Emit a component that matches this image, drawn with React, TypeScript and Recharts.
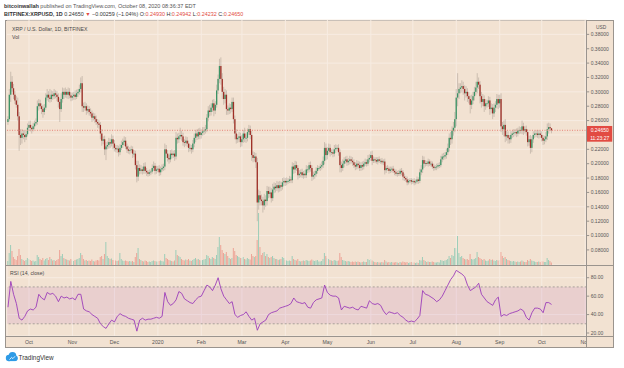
import { ComposedChart, Bar, Line, XAxis, YAxis, CartesianGrid, ReferenceLine, ReferenceArea, Cell } from "recharts";

// Daily BITFINEX:XRPUSD candles, Sep 16 2019 .. Oct 8 2020 (index 0 = Sep 16).
// Prices kept in thousandths of a dollar.
const firstOpenMilli = 258;

const closeMilli = [
  // Sep 2019
  262, 296, 314, 305, 296, 288, 282, 266, 240, 236, 242, 240, 237, 241, 250,
  // Oct
  254, 250, 248, 252, 256, 258, 280, 284, 280, 276, 272, 278, 292, 296, 292, 290,
  296, 294, 298, 296, 293, 286, 276, 290, 300, 296, 300, 296, 300, 295, 292,
  // Nov
  294, 296, 293, 298, 300, 304, 312, 280, 278, 280, 274, 276, 272, 270, 264,
  266, 262, 258, 256, 254, 242, 232, 234, 220, 224, 226, 230, 228, 234, 228,
  // Dec
  222, 220, 221, 216, 222, 226, 230, 232, 224, 220, 218, 219, 220, 214, 214, 198,
  182, 194, 190, 192, 190, 196, 190, 188, 186, 188, 189, 194, 197, 190, 192,
  // Jan 2020
  193, 188, 192, 194, 196, 220, 214, 208, 206, 214, 212, 214, 210, 236, 234, 238,
  240, 238, 230, 229, 232, 228, 222, 222, 220, 228, 236, 242, 238, 244, 240,
  // Feb
  243, 245, 246, 248, 264, 274, 272, 278, 284, 274, 282, 302, 318, 336, 318,
  300, 290, 296, 276, 274, 278, 276, 286, 262, 242, 234, 236, 238, 230,
  // Mar
  234, 242, 236, 236, 244, 248, 240, 212, 208, 210, 202, 146, 156, 150, 148, 142,
  150, 148, 162, 158, 160, 152, 164, 168, 166, 170, 166, 170, 168, 174, 176,
  // Apr
  174, 176, 176, 178, 177, 196, 192, 198, 194, 184, 186, 188, 184, 186, 184,
  192, 192, 198, 194, 182, 184, 186, 190, 194, 194, 196, 198, 204, 222, 212,
  // May
  218, 222, 216, 216, 214, 220, 222, 222, 216, 198, 194, 200, 204, 206, 202, 204,
  206, 204, 202, 198, 196, 200, 198, 194, 198, 196, 200, 202, 200, 206, 208,
  // Jun
  212, 204, 206, 205, 203, 206, 204, 204, 202, 203, 191, 194, 193, 190, 192,
  193, 190, 188, 186, 187, 186, 190, 188, 182, 180, 178, 174, 176, 177, 175,
  // Jul
  176, 174, 175, 178, 176, 188, 192, 205, 200, 201, 200, 203, 200, 200, 196, 194,
  195, 196, 198, 198, 206, 210, 210, 212, 216, 222, 236, 234, 246, 250, 262,
  // Aug
  292, 298, 304, 306, 308, 304, 298, 300, 294, 290, 282, 288, 294, 300, 306, 314,
  310, 294, 286, 290, 280, 284, 284, 288, 276, 278, 270, 278, 282, 290, 284,
  // Sep
  290, 252, 248, 254, 238, 240, 236, 234, 240, 242, 243, 244, 242, 246, 247,
  246, 252, 246, 248, 244, 230, 234, 222, 234, 240, 242, 242, 240, 242, 240,
  // Oct 2020
  236, 232, 234, 238, 248, 251, 249.3, 246.5,
];

// how far each wick reaches past the body (thousandths)
const wickUpMilli = [
  4, 8, 14, 8, 6, 5, 6, 10, 6, 8, 6, 5, 6, 5, 6,
  5, 6, 4, 5, 4, 5, 8, 6, 5, 4, 6, 5, 6, 8, 5, 12, 6, 5, 6, 4, 5, 5, 6, 8, 6, 5, 6, 4, 6, 5, 4,
  5, 4, 6, 5, 4, 6, 8, 10, 5, 6, 4, 5, 4, 5, 4, 5, 4, 5, 4, 5, 4, 6, 4, 5, 6, 5, 6, 5, 7, 5,
  5, 4, 5, 4, 5, 6, 5, 6, 5, 4, 5, 4, 5, 4, 5, 4, 6, 10, 5, 6, 4, 5, 6, 4, 3, 4, 3, 5, 6, 4, 5,
  4, 5, 4, 5, 4, 8, 6, 5, 4, 5, 6, 4, 5, 8, 6, 5, 10, 6, 5, 4, 6, 5, 4, 5, 4, 5, 6, 5, 6, 5, 6,
  5, 6, 5, 6, 5, 6, 8, 6, 5, 6, 5, 8, 6, 10, 12, 8, 7, 8, 6, 5, 6, 5, 6, 6, 5, 6, 5, 6, 5,
  6, 5, 8, 6, 5, 6, 5, 6, 5, 6, 5, 6, 8, 6, 7, 6, 8, 6, 7, 6, 8, 6, 8, 6, 5, 6, 5, 6, 5, 6, 5,
  4, 5, 4, 5, 4, 6, 5, 6, 5, 4, 5, 4, 5, 4, 5, 6, 5, 4, 5, 4, 5, 4, 5, 4, 3, 4, 5, 6, 8, 6,
  5, 6, 5, 4, 5, 6, 5, 4, 5, 4, 5, 6, 5, 4, 5, 4, 5, 4, 5, 4, 4, 5, 4, 5, 4, 5, 4, 5, 4, 6, 5,
  5, 6, 4, 3, 4, 3, 4, 3, 4, 3, 4, 3, 4, 3, 4, 3, 4, 3, 4, 3, 4, 3, 4, 3, 4, 3, 4, 3, 3, 3,
  3, 4, 3, 4, 3, 5, 6, 6, 5, 4, 3, 4, 3, 4, 3, 4, 3, 4, 3, 4, 5, 4, 5, 4, 5, 6, 6, 8, 6, 8, 10,
  12, 28, 8, 6, 8, 6, 5, 8, 5, 6, 5, 8, 6, 7, 8, 12, 6, 5, 6, 7, 5, 6, 5, 6, 5, 6, 5, 6, 5, 7, 6,
  6, 8, 6, 6, 8, 6, 5, 4, 5, 4, 5, 4, 5, 4, 5, 4, 8, 5, 4, 5, 4, 5, 6, 4, 5, 4, 5, 4, 5, 4,
  5, 4, 5, 6, 8, 6, 5, 0.1,
];

const wickDownMilli = [
  4, 3, 10, 5, 6, 5, 4, 6, 22, 10, 8, 6, 7, 4, 3,
  4, 5, 6, 3, 4, 3, 4, 6, 4, 7, 8, 4, 3, 4, 6, 5, 4, 5, 4, 5, 6, 8, 18, 4, 5, 6, 4, 5, 6, 4, 5,
  4, 5, 4, 3, 5, 4, 5, 8, 6, 4, 6, 4, 5, 4, 6, 4, 5, 4, 6, 5, 8, 7, 5, 8, 15, 4, 5, 6, 4, 8,
  5, 4, 5, 6, 4, 3, 4, 5, 4, 5, 4, 5, 4, 6, 5, 6, 8, 6, 5, 4, 5, 4, 4, 5, 4, 3, 4, 3, 4, 5, 4,
  4, 5, 4, 3, 4, 5, 6, 5, 6, 4, 5, 4, 6, 4, 6, 5, 4, 6, 5, 6, 4, 5, 6, 5, 6, 4, 5, 6, 5, 4, 6,
  5, 4, 5, 4, 4, 5, 6, 5, 6, 8, 5, 4, 5, 6, 8, 10, 8, 6, 8, 6, 5, 6, 4, 6, 8, 6, 5, 6, 7,
  6, 5, 6, 7, 5, 4, 6, 8, 6, 5, 8, 26, 10, 8, 6, 10, 6, 8, 6, 6, 5, 6, 4, 5, 6, 4, 6, 5, 6, 4, 5,
  5, 4, 4, 3, 4, 4, 6, 5, 4, 6, 4, 5, 4, 5, 4, 4, 5, 4, 5, 6, 4, 5, 4, 4, 3, 4, 4, 4, 5, 7,
  6, 5, 6, 4, 5, 4, 5, 4, 5, 10, 6, 4, 5, 4, 5, 4, 5, 4, 5, 4, 5, 4, 5, 4, 4, 5, 4, 3, 4, 3, 4,
  4, 6, 3, 4, 3, 4, 3, 4, 3, 4, 6, 4, 3, 4, 3, 4, 3, 4, 3, 4, 3, 3, 4, 5, 4, 3, 4, 3, 3, 4,
  3, 4, 3, 3, 4, 3, 4, 5, 6, 4, 3, 4, 3, 4, 3, 4, 3, 4, 3, 4, 3, 4, 5, 4, 5, 4, 5, 8, 6, 7, 6,
  10, 12, 8, 6, 7, 8, 10, 6, 8, 6, 12, 6, 5, 6, 5, 8, 6, 10, 8, 6, 8, 5, 6, 5, 8, 6, 8, 5, 6, 5, 8,
  6, 8, 8, 10, 8, 6, 8, 6, 5, 4, 5, 4, 5, 4, 5, 4, 5, 6, 4, 5, 6, 5, 8, 6, 5, 4, 5, 4, 5, 4,
  5, 6, 5, 4, 5, 6, 4, 4.2,
];

// daily volume, millions of XRP (relative heights from the screenshot)
const volumeM = [
  40, 120, 200, 140, 80, 60, 50, 90, 160, 100, 60, 50, 40, 50, 70,
  60, 50, 40, 45, 35, 40, 100, 80, 60, 50, 70, 45, 60, 70, 50, 80, 60, 45, 50, 40, 50, 60, 150, 90, 110, 70, 60, 55, 50, 45, 60,
  45, 40, 50, 55, 60, 70, 120, 100, 60, 45, 50, 40, 45, 40, 55, 40, 35, 45, 50, 45, 80, 90, 60, 110, 230, 90, 70, 60, 65, 50,
  50, 45, 40, 45, 120, 60, 45, 40, 45, 40, 35, 40, 35, 40, 30, 80, 120, 170, 60, 50, 40, 35, 45, 40, 30, 35, 30, 40, 45, 40, 35,
  35, 40, 45, 40, 35, 110, 70, 60, 50, 45, 40, 35, 45, 150, 100, 90, 80, 60, 50, 45, 55, 50, 60, 45, 40, 50, 60, 70, 55, 60, 50,
  45, 50, 55, 60, 100, 90, 70, 60, 80, 70, 60, 100, 180, 280, 200, 150, 120, 110, 130, 90, 70, 60, 70, 170, 140, 100, 90, 80, 70,
  70, 80, 60, 55, 70, 60, 55, 110, 90, 80, 90, 250, 520, 180, 100, 120, 130, 90, 110, 80, 70, 80, 90, 70, 60, 60, 50, 55, 60, 80, 70,
  50, 45, 40, 45, 40, 90, 60, 50, 45, 60, 40, 35, 40, 45, 40, 50, 45, 40, 45, 55, 45, 40, 45, 50, 35, 35, 40, 60, 120, 90,
  70, 60, 50, 45, 40, 50, 45, 40, 45, 120, 80, 50, 45, 40, 35, 40, 35, 30, 35, 30, 35, 30, 35, 30, 25, 30, 35, 30, 30, 60, 50,
  60, 45, 35, 30, 25, 30, 25, 25, 30, 25, 50, 35, 25, 30, 25, 30, 25, 25, 30, 25, 20, 30, 25, 35, 30, 25, 30, 20, 25, 30,
  25, 25, 20, 25, 20, 50, 45, 80, 50, 40, 30, 35, 30, 30, 35, 30, 25, 25, 30, 25, 50, 45, 40, 45, 50, 60, 90, 70, 100, 90, 170,
  170, 290, 120, 80, 90, 70, 60, 55, 60, 50, 110, 60, 55, 60, 70, 130, 80, 70, 60, 50, 60, 45, 40, 45, 60, 50, 55, 45, 40, 50, 45,
  50, 130, 90, 70, 80, 60, 50, 45, 40, 35, 40, 35, 30, 35, 30, 35, 45, 35, 30, 30, 50, 40, 60, 45, 40, 35, 30, 30, 35, 30,
  40, 35, 30, 30, 70, 50, 40, 25,
];

// RSI(14, close), one reading every second day starting at index 0
const rsiEvery2Days = [
  48, 76, 62, 52, 36, 34, 38, 44, 46, 45,
  48, 62, 58, 56, 64, 62, 63, 60, 54, 60,
  58, 59, 57, 58, 56, 62, 62, 46, 44, 43,
  40, 38, 36, 30, 27, 25, 30, 34, 32, 38,
  41, 39, 38, 36, 35, 34, 22, 34, 36, 34,
  35, 35, 36, 37, 36, 38, 64, 54, 50, 52,
  56, 65, 63, 57, 55, 53, 52, 56, 59, 60,
  66, 72, 70, 66, 72, 80, 68, 60, 56, 52,
  54, 40, 37, 39, 40, 43, 38, 34, 36, 23,
  30, 32, 34, 40, 42, 43, 44, 47, 48, 49,
  50, 52, 58, 54, 53, 52, 53, 48, 47, 53,
  56, 57, 58, 72, 64, 61, 60, 60, 58, 45,
  49, 48, 47, 48, 46, 45, 49, 48, 47, 55,
  52, 51, 52, 50, 44, 40, 43, 42, 41, 42,
  39, 37, 34, 32, 33, 32, 35, 39, 66, 62,
  61, 59, 57, 54, 56, 60, 66, 72, 78, 82,
  88, 86, 84, 81, 72, 66, 68, 70, 74, 62,
  58, 54, 52, 50, 56, 59, 38, 40, 39, 41,
  42, 43, 44, 46, 44, 37, 34, 42, 47, 47,
  46, 42, 53, 53, 51,
];

// first day of each month, as day index
const monthTicks = [15, 46, 76, 107, 138, 167, 198, 228, 259, 289, 320, 351, 381, 412];
const monthLabels = ["Oct", "Nov", "Dec", "2020", "Feb", "Mar", "Apr", "May", "Jun", "Jul", "Aug", "Sep", "Oct", "Nov"];
const priceTicks = [0.06, 0.08, 0.1, 0.12, 0.14, 0.16, 0.18, 0.2, 0.22, 0.24, 0.26, 0.28, 0.3, 0.32, 0.34, 0.36, 0.38];
const rsiTicks = [20, 40, 60, 80];

const candles = closeMilli.map((c, i) => {
  const o = i === 0 ? firstOpenMilli : closeMilli[i - 1];
  const high = (Math.max(o, c) + wickUpMilli[i]) / 1000;
  const low = (Math.min(o, c) - wickDownMilli[i]) / 1000;
  return { day: i, open: o / 1000, close: c / 1000, high, low, range: [low, high], volume: volumeM[i], up: c >= o };
});
const rsiRows = rsiEvery2Days.map((v, i) => ({ day: i * 2, rsi: v }));
const last = candles[candles.length - 1];

const X_DOMAIN: [number, number] = [-0.7, 413.1];
const PRICE_DOMAIN: [number, number] = [0.059, 0.4];

const PEACH = "#F2E2D2";
const GRID = "#F7ECE2";
const BORDER = "#9a948e";
const UP = "#3A9264";
const DOWN = "#9E2E26";
const WICK = "rgba(115,105,98,0.38)";
const TAG = "#E24B42";
const TEXT = "#4a4a4a";

function Candle(props: any) {
  const { x, y, width, height, payload } = props;
  if (!payload || height == null || isNaN(y)) return null;
  const top = height < 0 ? y + height : y;
  const h = Math.abs(height);
  const span = payload.high - payload.low;
  const k = span > 0 ? h / span : 0;
  const cx = x + width / 2;
  const yo = top + (payload.high - payload.open) * k;
  const yc = top + (payload.high - payload.close) * k;
  return (
    <g>
      <line x1={cx} x2={cx} y1={top} y2={top + h} stroke={WICK} strokeWidth={0.8} />
      <rect
        x={cx - 0.65}
        y={Math.min(yo, yc)}
        width={1.3}
        height={Math.max(Math.abs(yo - yc), 0.8)}
        fill={payload.close >= payload.open ? UP : DOWN}
      />
    </g>
  );
}

function PriceTag({ viewBox }: any) {
  if (!viewBox) return null;
  const x = viewBox.x + viewBox.width;
  const y = viewBox.y;
  return (
    <g>
      <rect x={x} y={y - 4.3} width={25.5} height={15.7} fill={TAG} />
      <text x={x + 13} y={y + 1.7} textAnchor="middle" fontSize={5} fill="#fff">
        {last.close.toFixed(5)}
      </text>
      <text x={x + 13} y={y + 9.4} textAnchor="middle" fontSize={5} fill="#fff">
        11:23:27
      </text>
    </g>
  );
}

// the 0.24 label sits under the last-price tag, as on the original
const priceLabel = (v: number) => (Math.abs(v - 0.24) < 1e-9 ? "" : v.toFixed(5));

const abs = (left: number, top: number, extra: any = {}) => ({ position: "absolute" as const, left, top, ...extra });

export default function App() {
  return (
    <div style={{ position: "relative", width: 624, height: 368, background: "#fff", overflow: "hidden", fontFamily: "'Liberation Sans', Arial, sans-serif", color: TEXT }}>
      <style>{"body{margin:0}"}</style>

      <div style={abs(4, 3, { fontSize: 5.5, lineHeight: "6px", whiteSpace: "nowrap", color: "#555" })}>
        <b style={{ color: "#333" }}>bitcoinwallah</b> published on TradingView.com, October 08, 2020 08:36:37 EDT
      </div>
      <div style={abs(4, 11.3, { fontSize: 5.4, lineHeight: "6px", whiteSpace: "nowrap", color: "#333" })}>
        <b>BITFINEX:XRPUSD, 1D</b> 0.24650 <span style={{ color: TAG }}>▼</span> −0.00259 (−1.04%) O:
        <span style={{ color: TAG }}>0.24930</span> H:<span style={{ color: TAG }}>0.24942</span> L:
        <span style={{ color: TAG }}>0.24232</span> C:<span style={{ color: TAG }}>0.24650</span>
      </div>

      <div style={abs(5, 20, { width: 609, height: 328, background: PEACH, boxSizing: "border-box", border: `1px solid ${BORDER}` })} />

      {/* grid, price scale and volume */}
      <div style={abs(0, 0)}>
        <ComposedChart width={624} height={265} data={candles} margin={{ top: 20, right: 7.3, bottom: 0, left: 7 }}>
          <XAxis type="number" dataKey="day" domain={X_DOMAIN} hide allowDataOverflow />
          <YAxis
            orientation="right"
            domain={PRICE_DOMAIN}
            ticks={priceTicks}
            tickFormatter={priceLabel}
            width={30}
            axisLine={false}
            tickSize={2.5}
            tickMargin={1.5}
            tickLine={{ stroke: BORDER }}
            tick={{ fontSize: 5, fill: "#555" }}
            allowDataOverflow
          />
          <YAxis yAxisId="vol" hide domain={[0, 2450]} />
          <CartesianGrid vertical={false} stroke={GRID} />
          {monthTicks.map((m) => (
            <ReferenceLine key={m} x={m} stroke={GRID} />
          ))}
          <Bar yAxisId="vol" dataKey="volume" barSize={1} isAnimationActive={false}>
            {candles.map((r, i) => (
              <Cell key={i} fill={r.up ? "#9CCDB8" : "#EDA396"} />
            ))}
          </Bar>
        </ComposedChart>
      </div>

      {/* candles */}
      <div style={abs(0, 0)}>
        <ComposedChart width={624} height={265} data={candles} margin={{ top: 20, right: 37.3, bottom: 0, left: 7 }}>
          <XAxis type="number" dataKey="day" domain={X_DOMAIN} hide allowDataOverflow />
          <YAxis hide domain={PRICE_DOMAIN} allowDataOverflow />
          <ReferenceLine y={last.close} stroke="#E8837A" strokeDasharray="1 1.5" label={<PriceTag />} />
          <Bar dataKey="range" shape={<Candle />} isAnimationActive={false} />
        </ComposedChart>
      </div>

      {/* RSI pane + time scale */}
      <div style={abs(0, 265)}>
        <ComposedChart width={624} height={83} data={rsiRows} margin={{ top: 0, right: 7.3, bottom: 0, left: 7 }}>
          <XAxis
            type="number"
            dataKey="day"
            domain={X_DOMAIN}
            ticks={monthTicks}
            interval={0}
            tickFormatter={(v: number) => monthLabels[monthTicks.indexOf(v)]}
            axisLine={false}
            tickLine={false}
            tickSize={3}
            tickMargin={1.5}
            height={12}
            tick={{ fontSize: 5.2, fill: "#555" }}
            allowDataOverflow
          />
          <YAxis
            orientation="right"
            domain={[16.75, 93.8]}
            ticks={rsiTicks}
            tickFormatter={(v: number) => v.toFixed(2)}
            width={30}
            axisLine={false}
            tickSize={2.5}
            tickMargin={1.5}
            tickLine={{ stroke: BORDER }}
            tick={{ fontSize: 5, fill: "#555" }}
            allowDataOverflow
          />
          <CartesianGrid stroke={GRID} />
          <ReferenceArea y1={30} y2={70} fill="#9C27B0" fillOpacity={0.1} stroke="none" />
          <ReferenceLine y={70} stroke="#a8a09a" strokeDasharray="2 2" />
          <ReferenceLine y={30} stroke="#a8a09a" strokeDasharray="2 2" />
          <Line dataKey="rsi" stroke="#9C3DBA" strokeWidth={0.9} dot={false} isAnimationActive={false} />
        </ComposedChart>
      </div>

      {/* pane separators and price-scale border */}
      <div style={abs(5, 264.5, { width: 609, height: 1, background: BORDER })} />
      <div style={abs(5, 336, { width: 609, height: 1, background: BORDER })} />
      <div style={abs(587.2, 336.8, { width: 26, height: 10.5, background: PEACH })} />
      <div style={abs(586.2, 20, { width: 1, height: 328, background: BORDER })} />

      <div style={abs(12, 25.7, { fontSize: 5.2, lineHeight: "6px", whiteSpace: "nowrap" })}>XRP / U.S. Dollar, 1D, BITFINEX</div>
      <div style={abs(12, 33.7, { fontSize: 5.2, lineHeight: "6px" })}>Vol</div>
      <div style={abs(10, 270.3, { fontSize: 5.2, lineHeight: "6px", whiteSpace: "nowrap" })}>RSI (14, close)</div>
      <div style={abs(596, 24.5, { fontSize: 4.8, lineHeight: "6px", color: "#555" })}>USD</div>

      <svg style={abs(5, 351)} width={13} height={11}>
        <circle cx={4} cy={7} r={3.2} fill="#2E9BE6" />
        <circle cx={7.5} cy={4.8} r={3.8} fill="#2E9BE6" />
        <circle cx={10} cy={7.3} r={2.8} fill="#2E9BE6" />
        <rect x={3.5} y={6} width={7} height={4.1} fill="#2E9BE6" />
        <path d="M4.5 8.6 L6.6 6.4 L7.9 7.6 L10 5.3" stroke="#fff" strokeWidth={0.8} fill="none" />
      </svg>
      <div style={abs(18.5, 353.5, { fontSize: 6.4, lineHeight: "7px", color: "#333" })}>TradingView</div>
    </div>
  );
}
